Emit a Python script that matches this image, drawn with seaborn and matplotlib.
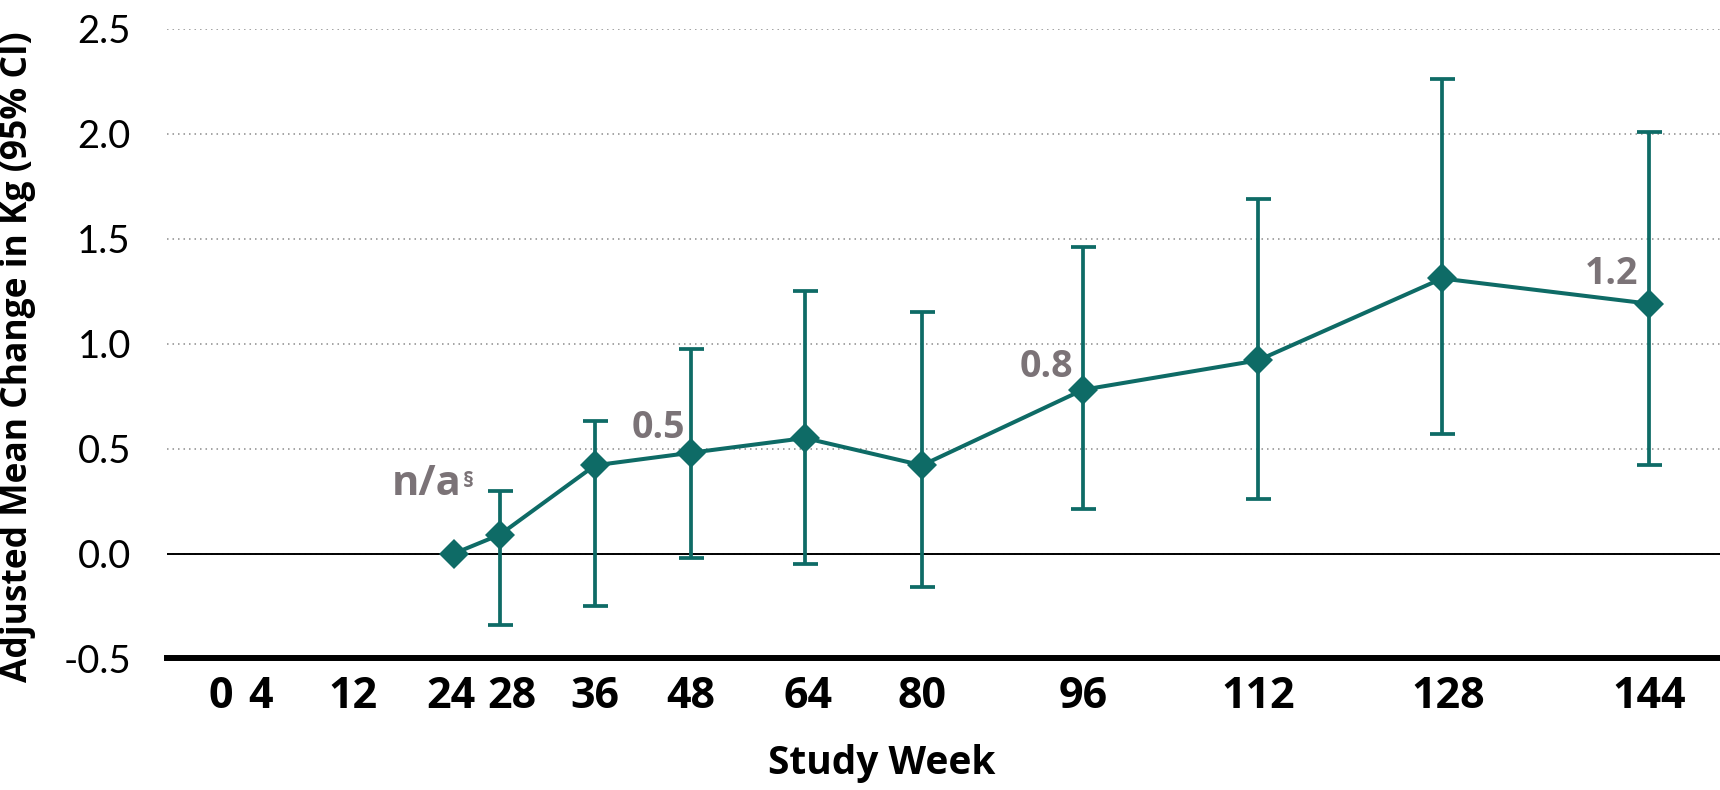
import numpy as np
import pandas as pd
import matplotlib
matplotlib.use('Agg')
import matplotlib.pyplot as plt
from matplotlib.transforms import ScaledTranslation
import seaborn as sns

# Data
weeks = [24, 28, 36, 48, 64, 80, 96, 112, 128, 144]
mean_change = [0.0, 0.09, 0.42, 0.48, 0.55, 0.42, 0.78, 0.92, 1.31, 1.19]
ci_lower = [np.nan, -0.34, -0.25, -0.02, -0.05, -0.16, 0.21, 0.26, 0.57, 0.42]
ci_upper = [np.nan, 0.30, 0.63, 0.975, 1.25, 1.15, 1.46, 1.69, 2.26, 2.01]

tick_weeks = [0, 4, 12, 24, 28, 36, 48, 64, 80, 96, 112, 128, 144]
y_ticks = [-0.5, 0.0, 0.5, 1.0, 1.5, 2.0, 2.5]

label_weeks = [24, 48, 96, 144]
label_texts = ['n/a', '0.5', '0.8', '1.2']

df = pd.DataFrame({'week': weeks, 'mean': mean_change,
                   'lower': ci_lower, 'upper': ci_upper})

teal = '#0e6b66'
grey_txt = '#7b7377'

sns.set_theme(style='white')
plt.rcParams['font.family'] = ['Open Sans', 'DejaVu Sans']

fig = plt.figure(figsize=(17.2, 7.9), dpi=100)
ax = fig.add_axes([0.0971, 0.1665, 0.9029, 0.7972])

# the original axis is not linear in weeks: piecewise mapping of week -> screen position
axis_weeks = np.array([-5.5, 0, 4, 12, 24, 28, 36, 48, 64, 80, 96, 112, 128, 144, 149.4])
axis_pos = np.array([167, 221, 260, 353, 454, 500, 595, 691, 805, 922, 1083, 1258, 1442, 1649, 1720])
ax.set_xscale('function', functions=(lambda w: np.interp(w, axis_weeks, axis_pos),
                                     lambda p: np.interp(p, axis_pos, axis_weeks)))

# error bars
yerr = np.vstack([df['mean'] - df['lower'], df['upper'] - df['mean']])
ax.errorbar(df['week'], df['mean'], yerr=yerr, fmt='none', ecolor=teal,
            elinewidth=2.7, capsize=9, capthick=2.7, zorder=3)

# line with diamond markers
sns.lineplot(data=df, x='week', y='mean', ax=ax, color=teal, lw=2.9,
             marker='D', markersize=15, markeredgewidth=0, zorder=4)

# value labels
offsets = {24: (5.5, 42), 48: (-4.3, 10.3), 96: (-7, 9.4), 144: (-8, 14.4)}
sizes = {24: 30, 48: 27, 96: 27, 144: 27}
for wk, txt in zip(label_weeks, label_texts):
    yv = df.loc[df['week'] == wk, 'mean'].values[0]
    ax.annotate(txt, (wk, yv), xytext=offsets[wk], textcoords='offset points',
                ha='right', va='baseline', fontsize=sizes[wk], fontweight='bold',
                color=grey_txt)
yv0 = df.loc[df['week'] == 24, 'mean'].values[0]
ax.annotate('§', (24, yv0), xytext=(6.5, 48), textcoords='offset points',
            ha='left', va='baseline', fontsize=16, fontweight='bold', color=grey_txt)

ax.set_xlim(-5.5, 149.4)
ax.set_ylim(-0.5, 2.5)
ax.set_xticks(tick_weeks)
ax.set_xticklabels([str(t) for t in tick_weeks], fontsize=31, fontweight='bold')
ax.set_yticks(y_ticks)
ax.set_yticklabels([f'{v:.1f}' for v in y_ticks], fontsize=27.5, family=['Lato', 'DejaVu Sans'])
ax.tick_params(axis='x', length=0, pad=12, colors='black')
ax.tick_params(axis='y', length=0, pad=26, colors='black')

# small horizontal nudges of some week labels, as in the original
label_shift = {24: -3, 28: 12, 64: 3, 128: 6}
for t, lab in zip(tick_weeks, ax.get_xticklabels()):
    if t in label_shift:
        lab.set_transform(lab.get_transform() +
                          ScaledTranslation(label_shift[t] / 100, 0, fig.dpi_scale_trans))

ax.grid(axis='y', linestyle=(0, (1, 2.6)), color='#8c8c8c', lw=1.1)
ax.grid(axis='x', visible=False)
ax.axhline(0, color='black', lw=1.4, zorder=2)

for side in ['left', 'right', 'top']:
    ax.spines[side].set_visible(False)
ax.spines['bottom'].set_linewidth(4.3)
ax.spines['bottom'].set_color('black')

ax.set_xlabel('Study Week', fontsize=28, fontweight='bold', color='black')
ax.set_ylabel('Adjusted Mean Change in Kg (95% CI)', fontsize=25.5, fontweight='bold', color='black')
ax.xaxis.set_label_coords(0.46, -0.136)
ax.yaxis.set_label_coords(-0.096, 0.479)
ax.xaxis.label.set_verticalalignment('top')
ax.yaxis.label.set_verticalalignment('center')

fig.savefig('out.png', dpi=100)
